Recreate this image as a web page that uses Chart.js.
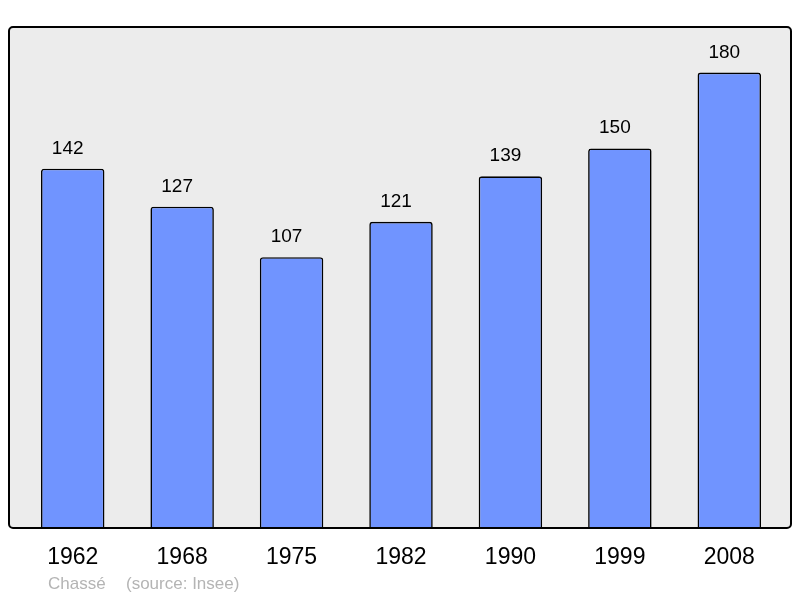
<!DOCTYPE html>
<html>
<head>
<meta charset="utf-8">
<script src="https://cdn.jsdelivr.net/npm/chart.js@4"></script>
<style>
  html, body { margin: 0; padding: 0; background: #ffffff; }
  #wrap { width: 800px; height: 598px; }
</style>
</head>
<body>
<div id="wrap"><canvas id="myChart" width="800" height="598"></canvas></div>
<script>
// Population data
const years = ['1962', '1968', '1975', '1982', '1990', '1999', '2008'];
const population = [142, 127, 107, 121, 139, 150, 180];
const townName = 'Chassé';
const sourceText = '(source: Insee)';

const FONT = '"Liberation Sans", Arial, sans-serif';

// Draws the grey panel behind the bars and its black frame
const framePlugin = {
    id: 'frame',
    beforeDatasetsDraw(chart) {
        const ctx = chart.ctx;
        const a = chart.chartArea;
        ctx.save();
        ctx.beginPath();
        ctx.roundRect(a.left - 9, a.top, a.right - a.left + 16, a.bottom - a.top, 4);
        ctx.fillStyle = '#ececec';
        ctx.fill();
        ctx.restore();
    },
    afterDatasetsDraw(chart) {
        const ctx = chart.ctx;
        const a = chart.chartArea;
        ctx.save();
        ctx.beginPath();
        ctx.roundRect(a.left - 9, a.top, a.right - a.left + 16, a.bottom - a.top, 4);
        ctx.lineWidth = 2;
        ctx.strokeStyle = '#000000';
        ctx.stroke();

        // value labels above each bar
        const meta = chart.getDatasetMeta(0);
        ctx.fillStyle = '#000000';
        ctx.font = '19px ' + FONT;
        ctx.textAlign = 'center';
        ctx.textBaseline = 'alphabetic';
        meta.data.forEach((bar, i) => {
            ctx.fillText(String(population[i]), bar.x - 5, bar.y - 15);
        });

        // footer text
        ctx.fillStyle = '#b4b4b4';
        ctx.font = '17px ' + FONT;
        ctx.textAlign = 'left';
        ctx.fillText(townName, 48, 589);
        ctx.fillText(sourceText, 126, 589);
        ctx.restore();
    }
};

function renderChart() {
    const ctx = document.getElementById('myChart').getContext('2d');
    new Chart(ctx, {
        type: 'bar',
        data: {
            labels: years,
            datasets: [{
                data: population,
                backgroundColor: '#7094ff',
                borderColor: '#000000',
                borderWidth: 1.6,
                borderRadius: { topLeft: 3, topRight: 3 },
                borderSkipped: 'bottom',
                barPercentage: 0.58,
                categoryPercentage: 1.0
            }]
        },
        options: {
            responsive: false,
            animation: false,
            layout: {
                padding: { left: 18, right: 16, top: 27, bottom: 0 }
            },
            scales: {
                x: {
                    grid: { display: false, drawTicks: false },
                    border: { display: false },
                    ticks: {
                        color: '#000000',
                        font: { family: FONT, size: 23 },
                        padding: 16
                    },
                    afterFit(axis) { axis.height = 70; }
                },
                y: {
                    display: false,
                    min: 0,
                    max: 198
                }
            },
            plugins: {
                legend: { display: false },
                tooltip: { enabled: false }
            }
        },
        plugins: [framePlugin]
    });
}

window.onload = renderChart;
</script>
</body>
</html>
